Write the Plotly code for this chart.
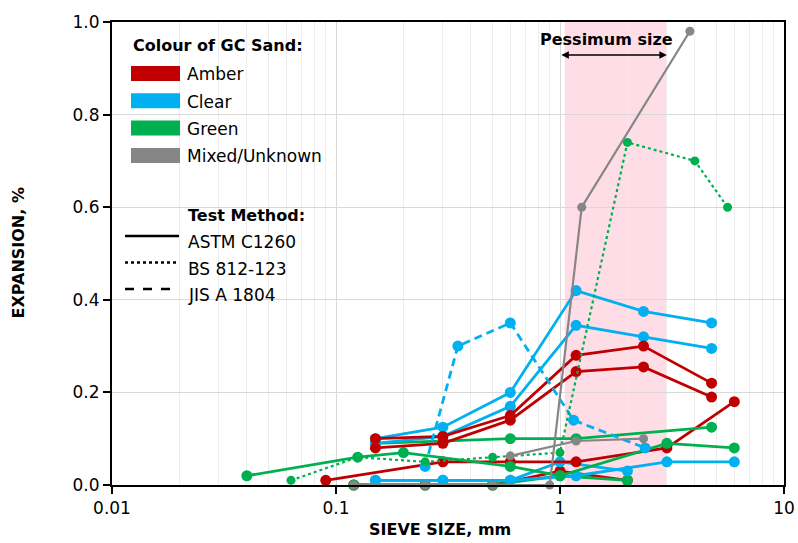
import math
import plotly.graph_objects as go

# ---- data (sieve size mm, expansion %) ----
AMBER = "#C00000"
CLEAR = "#00B0F0"
GREEN = "#00B050"
MIXED = "#868686"

amber_a_x = [0.15, 0.3, 0.6, 1.18, 2.36, 4.75]
amber_a_y = [0.10, 0.105, 0.15, 0.28, 0.30, 0.22]
amber_b_x = [0.15, 0.3, 0.6, 1.18, 2.36, 4.75]
amber_b_y = [0.08, 0.09, 0.14, 0.245, 0.255, 0.19]
amber_c_x = [0.09, 0.3, 0.6, 1.18, 3.0, 6.0]
amber_c_y = [0.01, 0.05, 0.05, 0.05, 0.08, 0.18]
amber_d_x = [0.12, 0.25, 0.5, 1.0, 2.0]
amber_d_y = [0.0, 0.0, 0.0, 0.03, 0.01]

clear_a_x = [0.15, 0.3, 0.6, 1.18, 2.36, 4.75]
clear_a_y = [0.10, 0.125, 0.20, 0.42, 0.375, 0.35]
clear_b_x = [0.15, 0.3, 0.6, 1.18, 2.36, 4.75]
clear_b_y = [0.09, 0.105, 0.17, 0.345, 0.32, 0.295]
clear_c_x = [0.15, 0.3, 0.6, 1.18, 3.0, 6.0]
clear_c_y = [0.01, 0.01, 0.01, 0.02, 0.05, 0.05]
clear_d_x = [0.15, 0.3, 0.6, 1.0, 2.0]
clear_d_y = [0.01, 0.01, 0.01, 0.05, 0.03]
clear_jis_x = [0.25, 0.35, 0.6, 1.15, 2.4]
clear_jis_y = [0.04, 0.30, 0.35, 0.14, 0.08]

green_a_x = [0.15, 0.3, 0.6, 1.18, 4.75]
green_a_y = [0.09, 0.095, 0.10, 0.10, 0.125]
green_b_x = [0.04, 0.125, 0.2, 0.6, 1.0, 3.0, 6.0]
green_b_y = [0.02, 0.06, 0.07, 0.04, 0.02, 0.09, 0.08]
green_c_x = [0.12, 0.25, 0.5, 1.0, 2.0]
green_c_y = [0.0, 0.0, 0.0, 0.02, 0.01]
green_bs_x = [0.063, 0.125, 0.25, 0.5, 1.0, 2.0, 4.0, 5.6]
green_bs_y = [0.01, 0.06, 0.05, 0.06, 0.07, 0.74, 0.70, 0.60]

mixed_a_x = [0.12, 0.25, 0.5, 0.9, 1.25, 3.8]
mixed_a_y = [0.0, 0.0, 0.0, 0.0, 0.60, 0.98]
mixed_b_x = [0.6, 1.18, 2.36]
mixed_b_y = [0.063, 0.095, 0.10]

pessimum = [1.05, 3.0]

colour_names = ["Amber", "Clear", "Green", "Mixed/Unknown"]
colour_vals = [AMBER, CLEAR, GREEN, MIXED]
method_names = ["ASTM C1260", "BS 812-123", "JIS A 1804"]
method_dash = ["solid", "dot", "dash"]

series = [
    (amber_d_x, amber_d_y, AMBER, "solid"),
    (green_c_x, green_c_y, GREEN, "solid"),
    (clear_c_x, clear_c_y, CLEAR, "solid"),
    (clear_d_x, clear_d_y, CLEAR, "solid"),
    (amber_c_x, amber_c_y, AMBER, "solid"),
    (green_b_x, green_b_y, GREEN, "solid"),
    (green_a_x, green_a_y, GREEN, "solid"),
    (clear_a_x, clear_a_y, CLEAR, "solid"),
    (clear_b_x, clear_b_y, CLEAR, "solid"),
    (amber_a_x, amber_a_y, AMBER, "solid"),
    (amber_b_x, amber_b_y, AMBER, "solid"),
    (clear_jis_x, clear_jis_y, CLEAR, "8px,5px"),
    (green_bs_x, green_bs_y, GREEN, "dot"),
    (mixed_b_x, mixed_b_y, MIXED, "solid"),
    (mixed_a_x, mixed_a_y, MIXED, "solid"),
]

fig = go.Figure()
for xs, ys, col, dash in series:
    thin = dash == "dot" or col == MIXED
    fig.add_trace(go.Scatter(
        x=xs, y=ys, mode="lines+markers",
        line=dict(color=col, width=2.2 if thin else 2.8, dash=dash),
        marker=dict(color=col, size=9 if thin else 11),
        cliponaxis=False, showlegend=False, hoverinfo="skip",
    ))

W, H = 798, 543
L, T, R, B = 112, 22, 14, 58
PW, PH = W - L - R, H - T - B


def px(x, y):
    # page pixel -> paper coords
    return (x - L) / PW, (H - B - y) / PH


# pessimum band
shapes = [dict(type="rect", xref="x", yref="paper",
               x0=pessimum[0], x1=pessimum[1],
               y0=0, y1=1, fillcolor="#FFDDE7", line_width=0, layer="below")]
anns = []

# legend: colour block
hx, hy = px(131, 46)
anns.append(dict(x=hx, y=hy, text="<b>Colour of GC Sand:</b>", xanchor="left",
                 yanchor="middle", font=dict(size=16)))
for i, (name, col) in enumerate(zip(colour_names, colour_vals)):
    yc = 73.5 + i * 27.3
    x0, y0 = px(131, yc + 7.5)
    x1, y1 = px(180, yc - 7.5)
    shapes.append(dict(type="rect", xref="paper", yref="paper", x0=x0, y0=y0,
                       x1=x1, y1=y1, fillcolor=col, line_width=0))
    tx, ty = px(185, yc + 1)
    anns.append(dict(x=tx, y=ty, text=name, xanchor="left", yanchor="middle",
                     font=dict(size=17)))

# legend: test method block
hx, hy = px(186, 215)
anns.append(dict(x=hx, y=hy, text="<b>Test Method:</b>", xanchor="left",
                 yanchor="middle", font=dict(size=16)))
for i, (name, dash) in enumerate(zip(method_names, method_dash)):
    yl = 236 + i * 26.5
    x0, y0 = px(125, yl)
    x1, _ = px(179, yl)
    shapes.append(dict(type="line", xref="paper", yref="paper", x0=x0, y0=y0,
                       x1=x1, y1=y0,
                       line=dict(color="black", width=2.5, dash=dash)))
    tx, ty = px(186, yl + 6)
    anns.append(dict(x=tx, y=ty, text=name, xanchor="left", yanchor="middle",
                     font=dict(size=17)))

# pessimum label + arrow
lx, ly = px(606, 39)
anns.append(dict(x=lx, y=ly, text="<b>Pessimum size</b>", xanchor="center",
                 yanchor="middle", font=dict(size=16)))
_, arr_y = px(0, 55)
anns.append(dict(x=math.log10(pessimum[1]), y=arr_y, xref="x", yref="paper",
                 text="", showarrow=True, ax=-107, ay=0, arrowhead=2,
                 startarrowhead=2, arrowside="end+start", arrowsize=1,
                 arrowwidth=1.5, arrowcolor="black"))

# axis titles
tx, _ = px(18, 0)
anns.append(dict(x=tx, y=0.5, text="<b>EXPANSION, %</b>",
                 textangle=-90, xanchor="center", yanchor="middle",
                 font=dict(size=16)))
tx, ty = px(440, 529)
anns.append(dict(x=tx, y=ty, text="<b>SIEVE SIZE, mm</b>",
                 xanchor="center", yanchor="middle", font=dict(size=16)))

for a in anns:
    a.setdefault("xref", "paper")
    a.setdefault("yref", "paper")
    a.setdefault("showarrow", False)

minor_vals = [m * 10 ** e for e in (-2, -1, 0) for m in range(2, 10)]

fig.update_layout(
    width=W, height=H,
    margin=dict(l=L, r=R, t=T, b=B, autoexpand=False),
    plot_bgcolor="white", paper_bgcolor="white",
    font=dict(family="DejaVu Sans", size=17, color="black"),
    shapes=shapes, annotations=anns,
    xaxis=dict(
        type="log", range=[-2, 1],
        tickvals=[0.01, 0.1, 1, 10], ticktext=["0.01", "0.1", "1", "10"],
        ticks="outside", ticklen=7, tickcolor="black", tickwidth=1.5,
        showgrid=True, gridcolor="#D9D9D9", gridwidth=1,
        minor=dict(tickvals=minor_vals, showgrid=True, gridcolor="#EDEDED",
                   ticks=""),
        showline=True, linecolor="black", linewidth=2, mirror=True,
        zeroline=False, automargin=False,
    ),
    yaxis=dict(
        range=[0, 1.0], dtick=0.2, tickformat=".1f",
        ticks="outside", ticklen=7, tickcolor="black", tickwidth=1.5,
        showgrid=True, gridcolor="#D9D9D9", gridwidth=1,
        showline=True, linecolor="black", linewidth=2, mirror=True,
        zeroline=False, automargin=False,
    ),
)

# drop the default 8px body margin so the figure fills the window exactly
fig.write_html("out.html", config={"displayModeBar": False},
               post_script="document.body.style.margin='0px';")
